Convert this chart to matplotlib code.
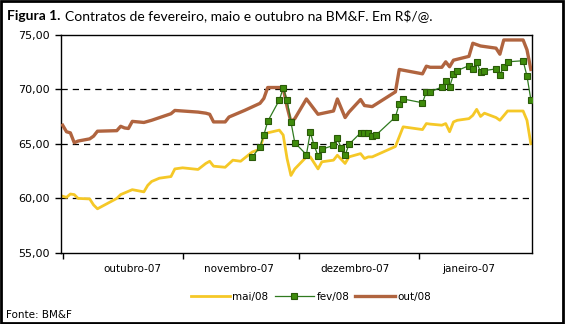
import numpy as np
import pandas as pd
import matplotlib
matplotlib.use('Agg')
import matplotlib.pyplot as plt
from matplotlib.ticker import FuncFormatter
from matplotlib.patches import Rectangle

# dias corridos a partir de 01/10/2007
inicio = pd.Timestamp('2007-10-01')

out_dias = [0, 1, 2, 3, 4, 7, 8, 9, 14, 15, 16, 17, 18, 21, 23, 28, 29, 31, 35, 37, 38, 39,
            42, 43, 47, 51, 52, 53, 56, 57, 58, 59, 60, 63, 66, 70, 71, 73, 74, 77, 78, 80,
            86, 87, 90, 93, 94, 95, 98, 99, 100, 101, 105, 106, 108, 112, 113, 114, 119, 120, 121]
out_08 = [66.7, 66.1, 66.0, 65.1, 65.25, 65.45, 65.7, 66.15, 66.2, 66.6, 66.45, 66.4, 67.05, 66.95,
          67.15, 67.75, 68.05, 68.0, 67.9, 67.8, 67.7, 67.0,
          67.0, 67.45, 68.05, 68.7, 69.15, 70.15, 70.15, 70.1, 68.4, 67.0, 67.3, 69.1, 67.7, 68.0,
          69.1, 67.4, 67.9, 69.05, 68.5, 68.4,
          69.75, 71.8, 71.6, 71.4, 72.1, 72.0, 72.0, 72.5, 72.05, 72.65, 73.0, 74.2, 73.95, 73.75,
          73.2, 74.5, 74.5, 73.6, 71.8]

mai_dias = [0, 1, 2, 3, 4, 7, 8, 9, 14, 15, 18, 21, 22, 23, 25, 28, 29, 31, 35, 37, 38, 39,
            42, 44, 46, 49, 51, 52, 53, 56, 57, 58, 59, 60, 63, 64, 66, 67, 70, 71, 73, 74, 77,
            78, 79, 80, 86, 88, 93, 94, 95, 98, 99, 100, 101, 102, 105, 106, 107, 108, 109, 112,
            113, 115, 119, 120, 121]
mai_08 = [60.2, 60.1, 60.4, 60.35, 60.0, 59.95, 59.4, 59.05, 60.0, 60.35, 60.8, 60.6, 61.2, 61.55,
          61.85, 62.0, 62.7, 62.8, 62.65, 63.2, 63.4, 62.95,
          62.85, 63.5, 63.4, 64.25, 64.5, 65.8, 66.0, 66.25, 65.8, 63.65, 62.1, 62.7, 63.8, 63.8,
          62.7, 63.35, 63.5, 63.95, 63.2, 63.8, 64.1,
          63.65, 63.8, 63.8, 64.75, 66.55, 66.3, 66.85, 66.8, 66.7, 66.85, 66.1, 67.0, 67.15,
          67.3, 67.6, 68.15, 67.5, 67.8, 67.4,
          67.15, 68.0, 68.0, 67.15, 65.0]

fev_dias = [49, 51, 52, 53, 56, 57, 58, 59, 60, 63, 64, 65, 66, 67, 70, 71, 72, 73, 74, 77, 78,
            79, 80, 81, 86, 87, 88, 93, 94, 95, 98, 99, 100, 101, 102, 105, 106, 107, 108, 109,
            112, 113, 114, 115, 119, 120, 121]
fev_08 = [63.75, 64.75, 65.8, 67.05, 69.0, 70.1, 69.0, 67.0, 65.1, 64.0, 66.05, 64.85, 63.9, 64.5,
          64.85, 65.5, 64.6, 63.95, 64.95, 66.0, 66.0,
          66.0, 65.7, 65.8, 67.45, 68.65, 69.1, 68.75, 69.75, 69.75, 70.2, 70.75, 70.2, 71.35,
          71.7, 72.15, 71.8, 72.5, 71.55, 71.7,
          71.85, 71.3, 72.05, 72.5, 72.6, 71.2, 69.05]

meses = ['outubro-07', 'novembro-07', 'dezembro-07', 'janeiro-07']


def datas(dias):
    return inicio + pd.to_timedelta(dias, unit='D')


fig = plt.figure(figsize=(5.65, 3.24), dpi=100)
ax = fig.add_axes([0.108, 0.219, 0.8336, 0.6745])

ax.plot(datas(out_dias), out_08, color='#B0643F', lw=2.4, label='out/08', zorder=3)
ax.plot(datas(mai_dias), mai_08, color='#F5C827', lw=2.0, label='mai/08', zorder=2)
ax.plot(datas(fev_dias), fev_08, color='#2F7A1F', lw=0.9, marker='s', ms=4,
        mfc='#3F8C0C', mec='#2A5A08', mew=0.8, label='fev/08', zorder=4)

ax.set_ylim(55, 75)
ax.set_yticks([55, 60, 65, 70, 75])
ax.yaxis.set_major_formatter(FuncFormatter(lambda v, p: f'{v:.2f}'.replace('.', ',')))
for v in [60, 65, 70]:
    ax.axhline(v, color='black', lw=0.9, ls=(0, (5, 4)), zorder=1)

inicio_meses = pd.date_range('2007-10-01', periods=4, freq='MS')
ax.set_xticks(inicio_meses)
ax.set_xticklabels([])
ax.set_xticks(datas([18, 45.5, 75.5, 105]), minor=True)
ax.set_xticklabels(meses, minor=True)
ax.set_xlim(inicio - pd.Timedelta(hours=10), inicio + pd.Timedelta(days=121.3))
ax.tick_params(axis='x', which='minor', length=0, pad=8, labelsize=7.5)
ax.tick_params(axis='x', which='major', length=4, width=1, direction='out')
ax.tick_params(axis='y', length=4, width=1, labelsize=8, pad=4)
for s in ax.spines.values():
    s.set_color('black')
    s.set_linewidth(1)

fig.text(0.012, 0.952, 'Figura 1.', fontsize=10, fontweight='bold', family='Lato', va='center')
fig.text(0.115, 0.952, 'Contratos de fevereiro, maio e outubro na BM&F. Em R$/@.', fontsize=10,
         family='Lato', va='center')
fig.text(0.01, 0.028, 'Fonte: BM&F', fontsize=7.5, va='center')

handles, labels = ax.get_legend_handles_labels()
ordem = [1, 2, 0]
ax.legend([handles[i] for i in ordem], [labels[i] for i in ordem], loc='center',
          bbox_to_anchor=(0.55, 0.083), bbox_transform=fig.transFigure, ncol=3, frameon=False,
          fontsize=7.5, handlelength=3.8, handletextpad=0.2, columnspacing=0.6)

fig.add_artist(Rectangle((0.002, 0.003), 0.994, 0.993, transform=fig.transFigure, fill=False,
                         edgecolor='black', lw=2))

fig.savefig('out.png', dpi=100)
